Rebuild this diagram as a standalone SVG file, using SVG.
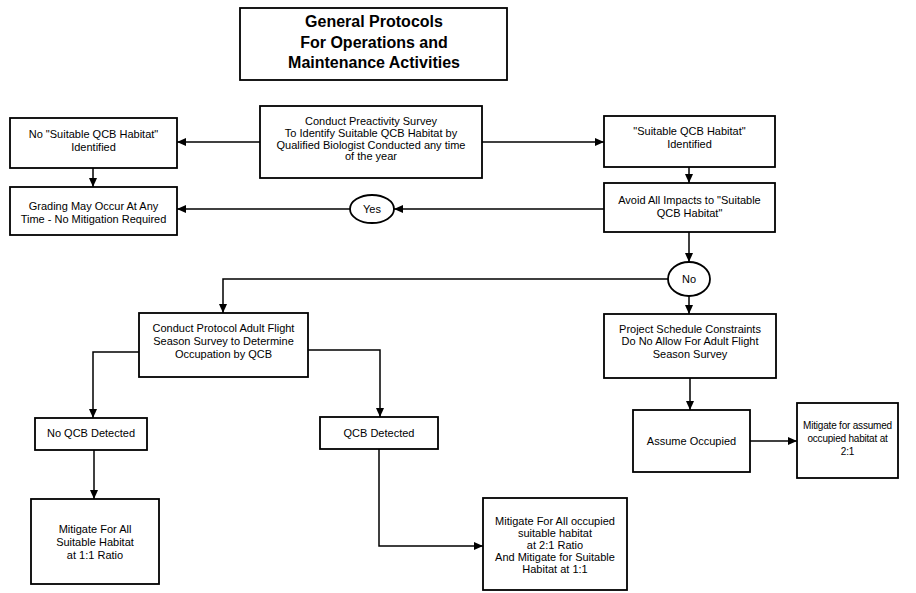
<svg xmlns="http://www.w3.org/2000/svg" width="916" height="593" viewBox="0 0 916 593">
<defs>
<style>
.box{fill:#fff;stroke:#000;stroke-width:1.8}
.t{font-family:"Liberation Sans",Arial,sans-serif;font-size:11px;fill:#000;text-anchor:middle}
.s{font-size:10px;letter-spacing:-0.2px}
.title{font-family:"Liberation Sans",Arial,sans-serif;font-size:16px;font-weight:bold;fill:#000;text-anchor:middle}
.c{fill:none;stroke:#000;stroke-width:1.5}
</style>
<marker id="arr" markerUnits="userSpaceOnUse" markerWidth="9" markerHeight="8" refX="9" refY="4" orient="auto">
<path d="M0,0 L9,4 L0,8 Z" fill="#000"/>
</marker>
</defs>
<rect width="916" height="593" fill="#fff"/>
<g id="connectors">
<line class="c" x1="260" y1="142" x2="177" y2="142" marker-end="url(#arr)"/>
<line class="c" x1="482" y1="142" x2="604" y2="142" marker-end="url(#arr)"/>
<line class="c" x1="93" y1="168" x2="93" y2="187" marker-end="url(#arr)"/>
<line class="c" x1="689" y1="167" x2="689" y2="183" marker-end="url(#arr)"/>
<line class="c" x1="604" y1="209" x2="394" y2="209" marker-end="url(#arr)"/>
<line class="c" x1="350" y1="209" x2="177" y2="209" marker-end="url(#arr)"/>
<line class="c" x1="689" y1="232" x2="689" y2="262" marker-end="url(#arr)"/>
<polyline class="c" points="668,279 223,279 223,313" marker-end="url(#arr)"/>
<line class="c" x1="689" y1="296" x2="689" y2="314" marker-end="url(#arr)"/>
<polyline class="c" points="139,352 93,352 93,418" marker-end="url(#arr)"/>
<polyline class="c" points="308,350 380,350 380,417" marker-end="url(#arr)"/>
<line class="c" x1="94" y1="450" x2="94" y2="499" marker-end="url(#arr)"/>
<polyline class="c" points="379,449 379,546 483,546" marker-end="url(#arr)"/>
<line class="c" x1="690" y1="378" x2="690" y2="410" marker-end="url(#arr)"/>
<line class="c" x1="750" y1="441" x2="797" y2="441" marker-end="url(#arr)"/>
</g>
<g id="title">
<rect class="box" x="240" y="8" width="267" height="72"/>
<text class="title" x="374" y="27">General Protocols</text>
<text class="title" x="374" y="48">For Operations and</text>
<text class="title" x="374" y="68">Maintenance Activities</text>
</g>
<g id="preactivity">
<rect class="box" x="260" y="106" width="222" height="72"/>
<text class="t" x="371" y="125">Conduct Preactivity Survey</text>
<text class="t" x="371" y="137">To Identify Suitable QCB Habitat by</text>
<text class="t" x="371" y="149">Qualified Biologist Conducted any time</text>
<text class="t" x="371" y="160">of the year</text>
</g>
<g id="noHabitat">
<rect class="box" x="10" y="118" width="167" height="50"/>
<text class="t" x="93.5" y="138">No "Suitable QCB Habitat"</text>
<text class="t" x="93.5" y="151">Identified</text>
</g>
<g id="grading">
<rect class="box" x="10" y="187" width="167" height="48"/>
<text class="t" x="93.5" y="210">Grading May Occur At Any</text>
<text class="t" x="93.5" y="223">Time - No Mitigation Required</text>
</g>
<g id="suitable">
<rect class="box" x="604" y="116" width="171" height="51"/>
<text class="t" x="689.5" y="135">"Suitable QCB Habitat"</text>
<text class="t" x="689.5" y="148">Identified</text>
</g>
<g id="avoid">
<rect class="box" x="604" y="183" width="171" height="49"/>
<text class="t" x="689.5" y="204">Avoid All Impacts to "Suitable</text>
<text class="t" x="689.5" y="217">QCB Habitat"</text>
</g>
<g id="yes">
<ellipse class="box" cx="372" cy="209" rx="22" ry="14"/>
<text class="t" x="372" y="213">Yes</text>
</g>
<g id="no">
<ellipse class="box" cx="689" cy="279" rx="21" ry="17"/>
<text class="t" x="689" y="283">No</text>
</g>
<g id="protocol">
<rect class="box" x="139" y="313" width="169" height="64"/>
<text class="t" x="223.5" y="332">Conduct Protocol Adult Flight</text>
<text class="t" x="223.5" y="345">Season Survey to Determine</text>
<text class="t" x="223.5" y="358">Occupation by QCB</text>
</g>
<g id="noQCB">
<rect class="box" x="35" y="418" width="112" height="32"/>
<text class="t" x="91" y="437">No QCB Detected</text>
</g>
<g id="qcb">
<rect class="box" x="320" y="417" width="118" height="32"/>
<text class="t" x="379" y="437">QCB Detected</text>
</g>
<g id="mitigate11">
<rect class="box" x="31" y="499" width="128" height="85"/>
<text class="t" x="95" y="533">Mitigate For All</text>
<text class="t" x="95" y="546">Suitable Habitat</text>
<text class="t" x="95" y="559">at 1:1 Ratio</text>
</g>
<g id="mitigate21">
<rect class="box" x="483" y="498" width="144" height="92"/>
<text class="t" x="555" y="525">Mitigate For All occupied</text>
<text class="t" x="555" y="537">suitable habitat</text>
<text class="t" x="555" y="549">at 2:1 Ratio</text>
<text class="t" x="555" y="561">And Mitigate for Suitable</text>
<text class="t" x="555" y="573">Habitat at 1:1</text>
</g>
<g id="project">
<rect class="box" x="604" y="314" width="172" height="64"/>
<text class="t" x="690" y="333">Project Schedule Constraints</text>
<text class="t" x="690" y="345">Do No Allow For Adult Flight</text>
<text class="t" x="690" y="358">Season Survey</text>
</g>
<g id="assume">
<rect class="box" x="633" y="410" width="117" height="62"/>
<text class="t" x="691.5" y="445">Assume Occupied</text>
</g>
<g id="mitigateAssumed">
<rect class="box" x="797" y="403" width="101" height="75"/>
<text class="t s" x="847.5" y="429">Mitigate for assumed</text>
<text class="t s" x="847.5" y="442">occupied habitat at</text>
<text class="t s" x="847.5" y="455">2:1</text>
</g>
</svg>
